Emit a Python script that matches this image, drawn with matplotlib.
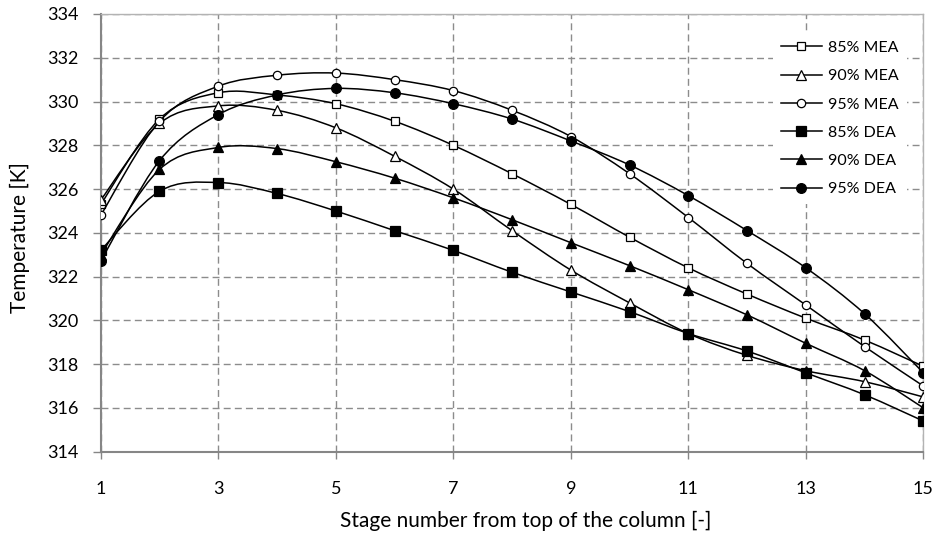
import matplotlib
matplotlib.use('Agg')
import matplotlib.pyplot as plt
import numpy as np
from matplotlib.path import Path
from matplotlib.patches import PathPatch
from matplotlib.lines import Line2D

plt.rcParams['font.family'] = ['Lato', 'DejaVu Sans']

# temperature profiles
stages = list(range(1, 16))
mea85 = [325.3, 329.2, 330.4, 330.3, 329.9, 329.1, 328.0, 326.7, 325.3, 323.8, 322.4, 321.2, 320.1, 319.1, 317.9]
mea90 = [325.5, 329.0, 329.8, 329.6, 328.8, 327.5, 326.0, 324.1, 322.3, 320.8, 319.4, 318.4, 317.7, 317.2, 316.5]
mea95 = [324.8, 329.1, 330.7, 331.2, 331.3, 331.0, 330.5, 329.6, 328.4, 326.7, 324.7, 322.6, 320.7, 318.8, 317.0]
dea85 = [323.2, 325.9, 326.3, 325.8, 325.0, 324.1, 323.2, 322.2, 321.3, 320.4, 319.4, 318.6, 317.6, 316.6, 315.4]
dea90 = [323.0, 326.9, 327.9, 327.85, 327.25, 326.5, 325.6, 324.6, 323.55, 322.5, 321.4, 320.25, 318.95, 317.7, 316.0]
dea95 = [322.7, 327.3, 329.4, 330.3, 330.6, 330.4, 329.9, 329.2, 328.2, 327.1, 325.7, 324.1, 322.4, 320.3, 317.6]

series = [mea85, mea90, mea95, dea85, dea90, dea95]
labels = ['85% MEA', '90% MEA', '95% MEA', '85% DEA', '90% DEA', '95% DEA']
markers = ['s', '^', 'o', 's', '^', 'o']
msizes = [6, 6.5, 6, 6.5, 7, 7]
filled = [False, False, False, True, True, True]

xticks = list(range(1, 16, 2))
yticks = list(range(314, 335, 2))


def smooth_path(x, y):
    # excel style smoothed line: cubic bezier through every point
    p = np.column_stack([x, y]).astype(float)
    ext = np.vstack([p[0], p, p[-1]])
    verts = [p[0]]
    codes = [Path.MOVETO]
    for i in range(len(p) - 1):
        c1 = ext[i + 1] + (ext[i + 2] - ext[i]) / 6
        c2 = ext[i + 2] - (ext[i + 3] - ext[i + 1]) / 6
        verts += [c1, c2, ext[i + 2]]
        codes += [Path.CURVE4] * 3
    return Path(verts, codes)


fig = plt.figure(figsize=(9.37, 5.38), dpi=100)
ax = fig.add_axes([0.1075, 0.1604, 0.878, 0.8136])

handles = []
for k, (vals, lab, m, ms, f) in enumerate(zip(series, labels, markers, msizes, filled)):
    fc = 'black' if f else 'white'
    ax.add_patch(PathPatch(smooth_path(stages, vals), facecolor='none',
                           edgecolor='black', lw=1.1, zorder=3 + k))
    ax.plot(stages, vals, linestyle='none', marker=m, ms=ms, mfc=fc,
            mec='black', mew=0.9, zorder=3 + k)
    handles.append(Line2D([], [], color='black', lw=1.1, marker=m, ms=ms,
                          mfc=fc, mec='black', mew=0.9))

ax.set_xlim(1, 15)
ax.set_ylim(314, 334)
ax.set_xticks(xticks)
ax.set_yticks(yticks)
ax.grid(True, color='#8c8c8c', linestyle=(0, (5, 3)), linewidth=1)
ax.set_axisbelow(True)

for s in ['left', 'bottom']:
    ax.spines[s].set_color('#868686')
    ax.spines[s].set_linewidth(1.5)
for s in ['top', 'right']:
    ax.spines[s].set_color('#b3b3b3')
    ax.spines[s].set_linewidth(1)

ax.tick_params(axis='y', direction='out', length=6, width=1, color='#868686',
               pad=10, labelsize=13)
ax.tick_params(axis='x', direction='out', length=5, width=1, color='#868686',
               pad=16, labelsize=13)

ax.set_xlabel('Stage number from top of the column [-]', fontsize=15,
              labelpad=10, x=0.516)
ax.set_ylabel('Temperature [K]', fontsize=15, labelpad=12, y=0.489)

ax.legend(handles, labels, loc='upper right', bbox_to_anchor=(0.99, 0.975),
          frameon=True, fancybox=False, edgecolor='none', facecolor='white',
          framealpha=1, fontsize=11.5, handlelength=2.6, handletextpad=0.4,
          labelspacing=0.88, borderpad=0.5)

fig.savefig('out.png', dpi=100)
